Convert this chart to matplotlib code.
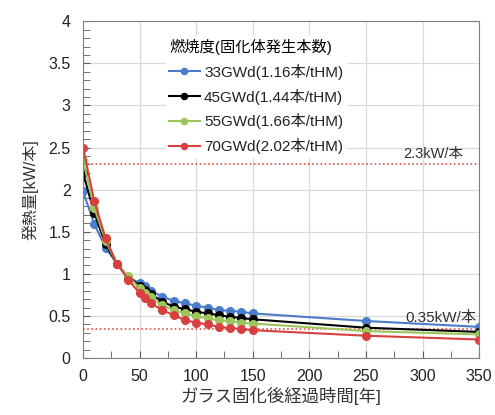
import numpy as np
import matplotlib
matplotlib.use('Agg')
import matplotlib.pyplot as plt
from matplotlib.ticker import MultipleLocator

plt.rcParams['font.family'] = ['Liberation Sans', 'Noto Sans CJK JP', 'DejaVu Sans']

# years after vitrification
years = [0, 10, 20, 30, 40, 50, 55, 60, 70, 80, 90, 100, 110, 120, 130, 140, 150, 250, 350]

# heat output [kW/canister] per burnup case
heat_33 = [1.98, 1.59, 1.31, 1.12, 0.96, 0.89, 0.85, 0.80, 0.73, 0.68, 0.65, 0.62, 0.60, 0.57, 0.56, 0.55, 0.53, 0.44, 0.37]
heat_45 = [2.20, 1.72, 1.35, 1.12, 0.96, 0.86, 0.81, 0.76, 0.67, 0.61, 0.58, 0.55, 0.53, 0.51, 0.49, 0.475, 0.46, 0.36, 0.31]
heat_55 = [2.35, 1.78, 1.39, 1.12, 0.97, 0.83, 0.77, 0.72, 0.63, 0.57, 0.53, 0.50, 0.47, 0.45, 0.435, 0.42, 0.41, 0.32, 0.28]
heat_70 = [2.50, 1.86, 1.42, 1.12, 0.93, 0.77, 0.71, 0.65, 0.57, 0.51, 0.45, 0.42, 0.40, 0.37, 0.356, 0.345, 0.33, 0.265, 0.22]

labels = ['33GWd(1.16本/tHM)', '45GWd(1.44本/tHM)', '55GWd(1.66本/tHM)', '70GWd(2.02本/tHM)']
colors = ['#4a7ccc', 'black', '#9cc55a', '#d8403f']

limit_high = 2.3
limit_low = 0.35

fig = plt.figure(figsize=(4.95, 4.15), dpi=100)
ax = fig.add_axes([0.1677, 0.1373, 0.8003, 0.8114])

for y, lab, c in zip([heat_33, heat_45, heat_55, heat_70], labels, colors):
    ax.plot(years, y, '-o', color=c, lw=1.5, ms=5.5, label=lab)

ax.axhline(limit_high, color='#e05050', ls=(0, (1, 1.5)), lw=1.2, zorder=1)
ax.axhline(limit_low, color='#e05050', ls=(0, (1, 1.5)), lw=1.2, zorder=1)
ax.text(283, limit_high + 0.08, '2.3kW/本', fontsize=10.5, color='#333333')
ax.text(285, limit_low + 0.08, '0.35kW/本', fontsize=11, color='#333333')

ax.set_xlim(0, 350)
ax.set_ylim(0, 4)
ax.xaxis.set_major_locator(MultipleLocator(50))
ax.xaxis.set_minor_locator(MultipleLocator(25))
ax.yaxis.set_minor_locator(MultipleLocator(0.1))
ax.set_yticks(np.arange(0, 4.01, 0.5))
ax.set_yticklabels(['0', '0.5', '1', '1.5', '2', '2.5', '3', '3.5', '4'])
ax.grid(True, which='major', color='#d9d9d9', lw=0.9)
ax.set_axisbelow(True)
ax.tick_params(which='both', direction='in', color='#595959', labelsize=11.5, labelcolor='#222222', length=5)
ax.tick_params(axis='x', pad=8)
ax.tick_params(axis='y', pad=9)
for s in ax.spines.values():
    s.set_color('#808080')

ax.set_xlabel('ガラス固化後経過時間[年]', fontsize=12.5, color='#333333', labelpad=2)
ax.set_ylabel('発熱量[kW/本]', fontsize=11.5, color='#333333', labelpad=7)

leg = ax.legend(loc='upper left', bbox_to_anchor=(0.19, 0.98), title='燃焼度(固化体発生本数)',
                fontsize=11, title_fontsize=11, frameon=True, facecolor='white', edgecolor='white',
                framealpha=1, handlelength=2.0, handletextpad=0.3, labelspacing=0.58, borderpad=0.2,
                markerscale=0.8)
leg._legend_box.align = 'left'
for t in leg.get_texts():
    t.set_color('#222222')

fig.savefig('out.png', dpi=100)
